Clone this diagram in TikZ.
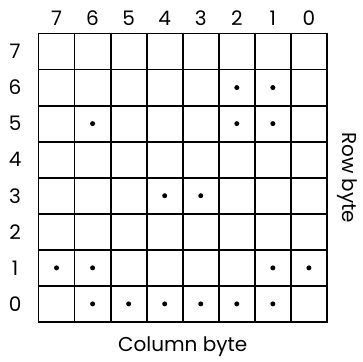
\documentclass[tikz,border=0pt]{standalone}
\usepackage{fontspec}
\setmainfont{Poppins}
\usepackage{tikz}
\usetikzlibrary{positioning}

\tikzset{
  gridline/.style={line width=1.8pt, black, line cap=rect},
  bitdot/.style={fill=black},
  lbl/.style={font=\fontsize{20}{23}\selectfont, inner sep=0pt}
}

\begin{document}
\begin{tikzpicture}[x=36.06pt, y=36.06pt]
  \useasboundingbox (-1.068,-1.109) rectangle (9.0,8.929);
  % 8x8 matrix
  \foreach \k in {0,...,8} {
    \draw[gridline] (\k,0) -- (\k,8);
    \draw[gridline] (0,\k) -- (8,\k);
  }
  % bit numbers
  \foreach \i in {0,...,7} {
    \node[lbl] (col\i) at ({7.5-\i}, 8.43) {\i};
    \node[lbl] (row\i) at (-0.65, {\i+0.5}) {\i};
  }
  \node[lbl] (colbyte) at (4, -0.69) {Column byte};
  \node[lbl, rotate=-90] (rowbyte) at (8.555, 4) {Row byte};
  % lit pixels (row/column)
  \foreach \r/\c in {6/2, 6/1, 5/6, 5/2, 5/1, 3/4, 3/3,
                     1/7, 1/6, 1/1, 1/0,
                     0/6, 0/5, 0/4, 0/3, 0/2, 0/1}
    \fill[bitdot] ({7.5-\c}, {\r+0.5}) circle (2.5pt);
\end{tikzpicture}
\end{document}
